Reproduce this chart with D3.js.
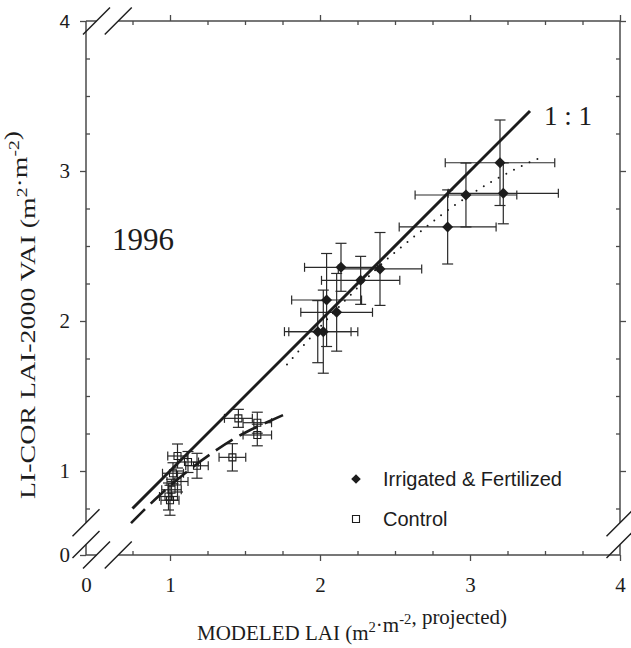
<!DOCTYPE html>
<html>
<head>
<meta charset="utf-8">
<script src="https://cdn.jsdelivr.net/npm/d3@7"></script>
<style>
  html, body { margin: 0; padding: 0; background: #fff; }
  svg { display: block; }
</style>
</head>
<body>
<div id="chart"></div>
<script>
// ---- values (modeled LAI vs LI-COR VAI, 1996) ----
var IF_X    = [1.985, 2.022, 2.044, 2.111, 2.140, 2.271, 2.400, 2.851, 2.973, 3.200, 3.222];
var IF_Y    = [1.929, 1.929, 2.140, 2.058, 2.358, 2.271, 2.347, 2.627, 2.840, 3.055, 2.851];
var IF_XERR = [0.222, 0.230, 0.233, 0.239, 0.243, 0.261, 0.278, 0.323, 0.339, 0.365, 0.367];
var IF_YERR = [0.207, 0.277, 0.310, 0.259, 0.160, 0.160, 0.243, 0.247, 0.213, 0.285, 0.203];

var CTRL_X    = [0.990, 1.000, 1.010, 1.020, 1.050, 1.050, 1.120, 1.180, 1.416, 1.456, 1.582, 1.582];
var CTRL_Y    = [0.830, 0.805, 0.875, 0.985, 0.930, 1.100, 1.060, 1.035, 1.091, 1.351, 1.322, 1.240];
var CTRL_XERR = [0.060, 0.060, 0.065, 0.070, 0.070, 0.065, 0.070, 0.075, 0.089, 0.093, 0.095, 0.095];
var CTRL_YERR = [0.090, 0.100, 0.070, 0.070, 0.070, 0.080, 0.070, 0.083, 0.091, 0.060, 0.070, 0.072];

var ONE_TO_ONE = [0.75, 3.40];                          // 1:1 line, start/end
var IF_FIT_X   = [1.78, 2.00, 2.20, 2.40, 2.60, 2.80, 3.00, 3.20, 3.40, 3.48];
var IF_FIT_Y   = [1.71, 1.96, 2.17, 2.37, 2.54, 2.70, 2.84, 2.96, 3.06, 3.09];
var CTRL_FIT_X = [0.74, 0.90, 1.10, 1.30, 1.50, 1.755];
var CTRL_FIT_Y = [0.652, 0.810, 0.985, 1.133, 1.255, 1.373];

var TICKS       = [1, 2, 3, 4];
var TICK_LABELS = ["1", "2", "3", "4"];
var MINOR_TICKS = [0.75, 1.25, 1.5, 1.75, 2.25, 2.5, 2.75, 3.25, 3.5, 3.75];
var AXIS_START  = 0.44;            // where the broken axes begin (labelled "0")
var BREAK       = [0.51, 0.655];   // gap in the axes

var LEGEND = ["Irrigated & Fertilized", "Control"];

(function () {
  "use strict";
  var W = 631, H = 648;
  var SERIF = "'Liberation Serif', 'Times New Roman', serif";
  var SANS = "'Liberation Sans', Arial, sans-serif";
  var INK = "#1c1c1c", AXIS = "#4a4a4a";
  var CAP_W = 5.5, CAP_H = 4.5;

  var x = d3.scaleLinear().domain([0, 4]).range([20, 620]);
  var y = d3.scaleLinear().domain([0, 4]).range([621, 21]);

  var svg = d3.select("#chart").append("svg").attr("width", W).attr("height", H);

  var x0 = x(AXIS_START), x1 = x(4), y0 = y(AXIS_START), y1 = y(4);
  var bx = BREAK.map(x), by = BREAK.map(y);

  // ---- frame, with gaps at the breaks ----
  var frame = [
    [x0, y0, bx[0], y0], [bx[1], y0, x1, y0],
    [x0, y1, bx[0], y1], [bx[1], y1, x1, y1],
    [x0, y1, x0, by[1]], [x0, by[0], x0, y0],
    [x1, y1, x1, by[1]], [x1, by[0], x1, y0]
  ];
  svg.append("g").selectAll("line").data(frame).join("line")
    .attr("x1", function (d) { return d[0]; }).attr("y1", function (d) { return d[1]; })
    .attr("x2", function (d) { return d[2]; }).attr("y2", function (d) { return d[3]; })
    .attr("stroke", AXIS).attr("stroke-width", 1.5);

  // break slashes
  var slashes = [[bx[0], y0], [bx[1], y0], [bx[0], y1], [bx[1], y1],
                 [x0, by[0]], [x0, by[1]], [x1, by[0]], [x1, by[1]]];
  svg.append("g").selectAll("line").data(slashes).join("line")
    .attr("x1", function (d) { return d[0] - 13.5; }).attr("y1", function (d) { return d[1] + 13.5; })
    .attr("x2", function (d) { return d[0] + 13.5; }).attr("y2", function (d) { return d[1] - 13.5; })
    .attr("stroke", INK).attr("stroke-width", 1.5);

  // ---- axes ----
  function axisG(axis, tx, ty) {
    var g = svg.append("g").attr("transform", "translate(" + tx + "," + ty + ")").call(axis);
    g.select(".domain").remove();
    g.selectAll("line").attr("stroke", AXIS).attr("stroke-width", 1.3);
    g.selectAll("text").attr("fill", INK).attr("font-family", SERIF).attr("font-size", 21);
    return g;
  }
  function fmt(d) { return d === AXIS_START ? "0" : TICK_LABELS[TICKS.indexOf(d)]; }
  var major = [AXIS_START].concat(TICKS);

  var gx = axisG(d3.axisBottom(x).tickValues(major).tickSize(6).tickPadding(16).tickFormat(fmt), 0, y0);
  gx.selectAll(".tick").filter(function (d) { return d === AXIS_START; }).select("line").remove();
  var gy = axisG(d3.axisLeft(y).tickValues(major).tickSize(6).tickPadding(10).tickFormat(fmt), x0, 0);
  gy.selectAll(".tick").filter(function (d) { return d === 4; }).select("text")
    .attr("font-family", SANS).attr("font-size", 19);

  axisG(d3.axisBottom(x).tickValues(MINOR_TICKS).tickSize(-4).tickFormat(""), 0, y0);
  axisG(d3.axisLeft(y).tickValues(MINOR_TICKS).tickSize(-4).tickFormat(""), x0, 0);
  axisG(d3.axisTop(x).tickValues(TICKS).tickSize(6).tickFormat(""), 0, y1);
  axisG(d3.axisTop(x).tickValues(MINOR_TICKS).tickSize(-4).tickFormat(""), 0, y1);
  axisG(d3.axisRight(y).tickValues(TICKS).tickSize(6).tickFormat(""), x1, 0);
  axisG(d3.axisRight(y).tickValues(MINOR_TICKS).tickSize(-4).tickFormat(""), x1, 0);

  // ---- error bars ----
  function errorBars(xs, ys, xe, ye) {
    var segs = [];
    xs.forEach(function (v, i) {
      var cx = x(v), cy = y(ys[i]);
      var l = x(v - xe[i]), r = x(v + xe[i]), t = y(ys[i] + ye[i]), b = y(ys[i] - ye[i]);
      segs.push([l, cy, r, cy], [l, cy - CAP_H, l, cy + CAP_H], [r, cy - CAP_H, r, cy + CAP_H],
                [cx, t, cx, b], [cx - CAP_W, t, cx + CAP_W, t], [cx - CAP_W, b, cx + CAP_W, b]);
    });
    svg.append("g").selectAll("line").data(segs).join("line")
      .attr("x1", function (d) { return d[0]; }).attr("y1", function (d) { return d[1]; })
      .attr("x2", function (d) { return d[2]; }).attr("y2", function (d) { return d[3]; })
      .attr("stroke", "#2a2a2a").attr("stroke-width", 1.2);
  }
  errorBars(IF_X, IF_Y, IF_XERR, IF_YERR);
  errorBars(CTRL_X, CTRL_Y, CTRL_XERR, CTRL_YERR);

  // ---- 1:1 line and the two fits ----
  var line = d3.line().x(function (d) { return x(d[0]); }).y(function (d) { return y(d[1]); });
  svg.append("path").datum(ONE_TO_ONE.map(function (v) { return [v, v]; }))
    .attr("d", line).attr("fill", "none").attr("stroke", INK).attr("stroke-width", 3);
  svg.append("path").datum(CTRL_FIT_X.map(function (v, i) { return [v, CTRL_FIT_Y[i]]; }))
    .attr("d", line.curve(d3.curveNatural)).attr("fill", "none").attr("stroke", INK)
    .attr("stroke-width", 2.6).attr("stroke-dasharray", "20,8");
  svg.append("path").datum(IF_FIT_X.map(function (v, i) { return [v, IF_FIT_Y[i]]; }))
    .attr("d", line.curve(d3.curveNatural)).attr("fill", "none").attr("stroke", INK)
    .attr("stroke-width", 2).attr("stroke-linecap", "round").attr("stroke-dasharray", "0,8.6");

  // ---- markers ----
  var diamond = d3.symbol(d3.symbolSquare, 60)();
  var square = d3.symbol(d3.symbolSquare, 49)();
  svg.append("g").selectAll("path").data(IF_X).join("path")
    .attr("d", diamond).attr("fill", INK)
    .attr("transform", function (d, i) { return "translate(" + x(d) + "," + y(IF_Y[i]) + ") rotate(45)"; });
  svg.append("g").selectAll("path").data(CTRL_X).join("path")
    .attr("d", square).attr("fill", "none").attr("stroke", INK).attr("stroke-width", 1.1)
    .attr("transform", function (d, i) { return "translate(" + x(d) + "," + y(CTRL_Y[i]) + ")"; });

  // ---- legend ----
  var lg = svg.append("g").attr("transform", "translate(356,479)");
  lg.append("path").attr("d", d3.symbol(d3.symbolSquare, 46)()).attr("fill", INK).attr("transform", "rotate(45)");
  lg.append("path").attr("d", square).attr("fill", "none").attr("stroke", INK).attr("stroke-width", 1.1)
    .attr("transform", "translate(0,40)");
  lg.selectAll("text").data(LEGEND).join("text")
    .attr("x", 27).attr("y", function (d, i) { return i * 40 + 7; })
    .attr("font-family", SANS).attr("font-size", 20).attr("fill", INK)
    .text(function (d) { return d; });

  // ---- annotations ----
  svg.append("text").attr("x", 112).attr("y", 250).attr("font-family", SERIF)
    .attr("font-size", 31).attr("fill", INK).text("1996");
  svg.append("text").attr("x", 544).attr("y", 125).attr("font-family", SERIF)
    .attr("font-size", 27).attr("fill", INK).text("1 : 1");

  // ---- axis titles (strings are normal text, arrays are superscripts) ----
  function title(parts, tr, size, len) {
    var t = svg.append("text").attr("transform", tr).attr("text-anchor", "middle")
      .attr("font-family", SERIF).attr("font-size", size).attr("fill", INK);
    if (len) t.attr("textLength", len).attr("lengthAdjust", "spacingAndGlyphs");
    parts.forEach(function (p) {
      if (Array.isArray(p)) {
        t.append("tspan").attr("dy", -8).attr("font-size", size * 0.7).text(p[0]);
        t.append("tspan").attr("dy", 8).text("");
      } else {
        t.append("tspan").text(p);
      }
    });
  }
  title(["MODELED LAI (m", ["2"], "\u00b7m", ["-2"], ", projected)"], "translate(352,640)", 21);
  // the vertical title is set wider in the original
  title(["LI-COR LAI-2000 VAI (m", ["2"], "\u00b7m", ["-2"], ")"], "translate(35,315) rotate(-90)", 22, 368);
})();
</script>
</body>
</html>
